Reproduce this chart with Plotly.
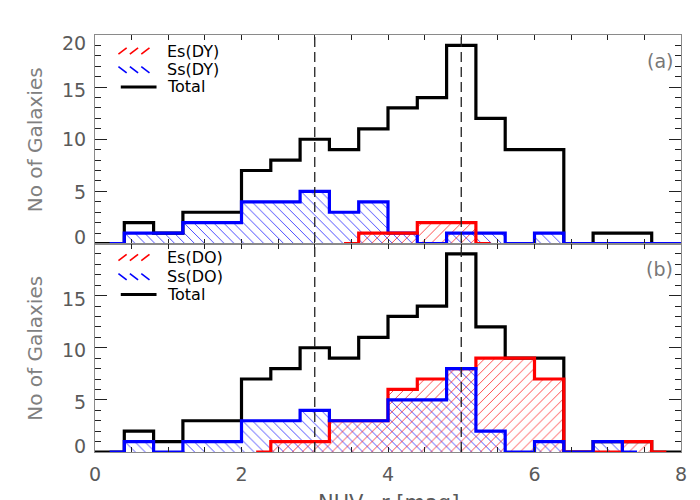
import plotly.graph_objects as go
from plotly.subplots import make_subplots

# ---------------- data ----------------
bin_width = 0.4

total_centers = [-0.2, 0.2, 0.6, 1.0, 1.4, 1.8, 2.2, 2.6, 3.0, 3.4, 3.8,
                 4.2, 4.6, 5.0, 5.4, 5.8, 6.2, 6.6, 7.0, 7.4, 7.8, 8.2]
total_counts = [0, 0, 2, 1, 3, 3, 7, 8, 10, 9, 11,
                13, 14, 19, 12, 9, 9, 0, 1, 1, 0, 0]

es_dy_centers = [3.4, 3.8, 4.2, 4.6, 5.0, 5.4]
es_dy_counts = [0, 1, 1, 2, 2, 0]

ss_dy_centers = [0.2, 0.6, 1.0, 1.4, 1.8, 2.2, 2.6, 3.0, 3.4, 3.8, 4.2,
                 4.6, 5.0, 5.4, 5.8, 6.2, 6.6, 7.0, 7.4, 7.8, 8.2]
ss_dy_counts = [0, 1, 1, 2, 2, 4, 4, 5, 3, 4, 1,
                0, 1, 1, 0, 1, 0, 0, 0, 0, 0]

es_do_centers = [2.2, 2.6, 3.0, 3.4, 3.8, 4.2, 4.6, 5.0, 5.4, 5.8, 6.2,
                 6.6, 7.0, 7.4, 7.8]
es_do_counts = [0, 1, 1, 3, 3, 6, 7, 8, 9, 9, 7, 0, 0, 1, 0]

ss_do_centers = [0.2, 0.6, 1.0, 1.4, 1.8, 2.2, 2.6, 3.0, 3.4, 3.8, 4.2,
                 4.6, 5.0, 5.4, 5.8, 6.2, 6.6, 7.0, 7.4]
ss_do_counts = [0, 1, 0, 1, 1, 3, 3, 4, 3, 3, 5, 5, 8, 2, 0, 1, 0, 1, 0]

marker_lines = [3, 5]

legend_a = ["Es(DY)", "Ss(DY)", "Total"]
legend_b = ["Es(DO)", "Ss(DO)", "Total"]
panel_tags = ["(a)", "(b)"]

x_ticks = [0, 2, 4, 6, 8]
y_ticks_a = [0, 5, 10, 15, 20]
y_ticks_b = [0, 5, 10, 15]
# upward pixel nudges of the y tick labels (IDL style: end labels pulled inward)
y_label_up_a = [7, -1, 0, -3, -8]
y_label_up_b = [6, -2, -2, -3]

# ---------------- styles ----------------
RED = "#ff0000"
BLUE = "#0000ff"
BLACK = "#000000"
GRAY_TXT = "#5a5a5a"
FONT = "DejaVu Sans"

fig = make_subplots(rows=2, cols=1, shared_xaxes=True, vertical_spacing=0)


def hatch(x, y, color, shape, row):
    fig.add_trace(go.Bar(
        x=x, y=y, width=bin_width,
        marker=dict(color="rgba(0,0,0,0)", line=dict(width=0),
                    pattern=dict(shape=shape, fgcolor=color, fgopacity=0.7,
                                 size=7, solidity=0.14)),
        showlegend=False, hoverinfo="skip"), row=row, col=1)


def step(x, y, color, row):
    fig.add_trace(go.Scatter(
        x=x, y=y, mode="lines", line=dict(color=color, width=3.2, shape="hvh"),
        showlegend=False, hoverinfo="skip"), row=row, col=1)


# panel (a)
hatch(ss_dy_centers, ss_dy_counts, BLUE, "\\", 1)
hatch(es_dy_centers, es_dy_counts, RED, "/", 1)
step(total_centers, total_counts, BLACK, 1)
step(ss_dy_centers, ss_dy_counts, BLUE, 1)
step(es_dy_centers, es_dy_counts, RED, 1)

# panel (b)
hatch(ss_do_centers, ss_do_counts, BLUE, "\\", 2)
hatch(es_do_centers, es_do_counts, RED, "/", 2)
step(total_centers, total_counts, BLACK, 2)
step(es_do_centers, es_do_counts, RED, 2)
step(ss_do_centers, ss_do_counts, BLUE, 2)

fig.update_layout(barmode="overlay", bargap=0)

# dashed vertical lines across both panels
for xv in marker_lines:
    fig.add_shape(type="line", xref="x2", yref="paper", x0=xv, x1=xv, y0=0, y1=1,
                  line=dict(color="#222222", width=1.3, dash="10px,5px"),
                  layer="above")

# custom legends
shapes = []
annotations = []
for row, labels, ys in [(1, legend_a, [0.923, 0.833, 0.751]),
                        (2, legend_b, [0.933, 0.841, 0.755])]:
    xr = "x domain" if row == 1 else "x2 domain"
    yr = "y domain" if row == 1 else "y2 domain"
    yaxis_ref = "y" if row == 1 else "y2"
    for k in range(3):
        x0 = 0.040 + k * 0.0195
        shapes.append(dict(type="line", xref=xr, yref=yr, x0=x0, x1=x0 + 0.014,
                           y0=ys[0] - 0.015, y1=ys[0] + 0.015,
                           line=dict(color=RED, width=1.6)))
        shapes.append(dict(type="line", xref=xr, yref=yr, x0=x0, x1=x0 + 0.014,
                           y0=ys[1] + 0.015, y1=ys[1] - 0.015,
                           line=dict(color=BLUE, width=1.6)))
    shapes.append(dict(type="line", xref=xr, yref=yr, x0=0.044, x1=0.105,
                       y0=ys[2], y1=ys[2], line=dict(color=BLACK, width=3)))
    for lab, yy in zip(labels, ys):
        annotations.append(dict(text=lab, xref=xr, yref=yr, x=0.122, y=yy,
                                xanchor="left", yanchor="middle", showarrow=False,
                                borderpad=0,
                                font=dict(family=FONT, size=16, color=BLACK)))
    annotations.append(dict(text=panel_tags[row - 1], xref=xr, yref=yr,
                            x=0.9635, y=0.876 if row == 1 else 0.88,
                            xanchor="center", yanchor="middle", showarrow=False,
                            font=dict(family=FONT, size=19, color="#777777")))
    # y titles
    annotations.append(dict(text="No of Galaxies", xref="paper", yref=yr,
                            x=-0.1024, y=0.5, textangle=-90, xanchor="center",
                            yanchor="middle", showarrow=False,
                            font=dict(family=FONT, size=20, color="#808080")))
    # y tick labels
    vals = y_ticks_a if row == 1 else y_ticks_b
    ups = y_label_up_a if row == 1 else y_label_up_b
    for v, up in zip(vals, ups):
        annotations.append(dict(text=str(v), xref="paper", yref=yaxis_ref,
                                x=-0.012, y=v, xanchor="right", yanchor="middle",
                                yshift=up, showarrow=False,
                                font=dict(family=FONT, size=19, color=GRAY_TXT)))

annotations.append(dict(text="NUV\u2212r [mag]", xref="paper", yref="paper",
                        x=0.5, y=-0.088, xanchor="center", yanchor="top",
                        showarrow=False,
                        font=dict(family=FONT, size=21, color=GRAY_TXT)))

for s in shapes:
    fig.add_shape(**s)
for a in annotations:
    fig.add_annotation(**a)

axis_common = dict(showline=True, linecolor="#8a8a8a", linewidth=1, mirror="ticks",
                   ticks="inside", tickcolor="#222222", showgrid=False,
                   zeroline=False)

fig.update_xaxes(range=[0, 8], tickvals=x_ticks, ticklen=5,
                 minor=dict(dtick=0.5, ticks="inside", ticklen=5,
                            tickcolor="#222222", showgrid=False),
                 tickfont=dict(family=FONT, size=19, color=GRAY_TXT),
                 ticklabelstandoff=5,
                 **axis_common)
fig.update_xaxes(showticklabels=False, row=1, col=1)

fig.update_yaxes(range=[0, 20], ticklen=12, showticklabels=False,
                 minor=dict(dtick=1, ticks="inside", ticklen=6,
                            tickcolor="#222222", showgrid=False),
                 **axis_common)
fig.update_yaxes(tickvals=y_ticks_a, row=1, col=1)
fig.update_yaxes(tickvals=y_ticks_b, row=2, col=1)

fig.update_layout(
    width=700, height=500,
    margin=dict(l=87, r=27, t=27, b=56),
    plot_bgcolor="white", paper_bgcolor="white",
    showlegend=False,
)

fig.write_html("out.html")
